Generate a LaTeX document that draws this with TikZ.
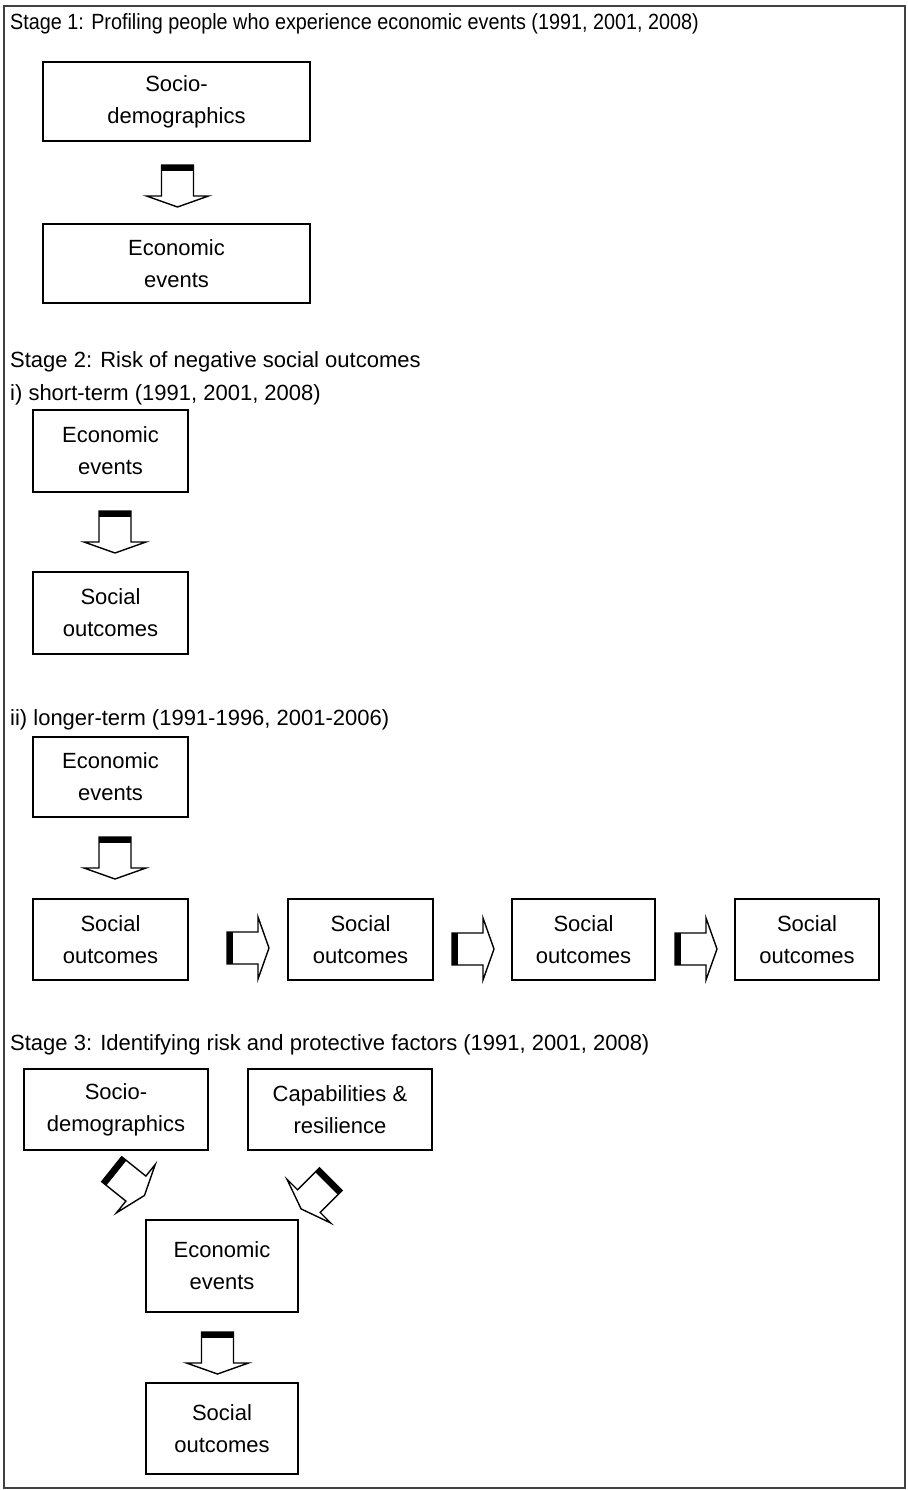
\documentclass[tikz,border=0pt]{standalone}
\usepackage{graphicx}
\usepackage{fontspec}
\setmainfont{Liberation Sans}
\newcommand\dfont{\fontsize{22}{32}\selectfont}
\tikzset{
  box/.style={draw, line width=1.5pt, align=center, inner sep=0pt, font=\dfont},
  titletext/.style={anchor=base west, inner sep=0pt, font=\dfont},
  blockarrow/.pic={
    \draw[line width=1.4pt, line join=miter] (0,-16) -- (31,-16) -- (31,-31) -- (42,0) -- (31,31) -- (31,16) -- (0,16) -- cycle;
    \fill (0,-16) rectangle (6,16);
  }
}
\begin{document}
\begin{tikzpicture}[x=1pt,y=-1pt]
\useasboundingbox (0,0) rectangle (907,1490);
\draw[line width=1.5pt, black!75] (4,6) rectangle (905,1488);

% titles
\node[titletext] (t1) at (10,30) {\scalebox{0.9}[1]{Stage 1: Profiling people who experience economic events (1991, 2001, 2008)}};
\node[titletext] (t2) at (10,367) {Stage 2: Risk of negative social outcomes};
\node[titletext] (t2a) at (10,400) {i) short-term (1991, 2001, 2008)};
\node[titletext] (t2b) at (10,725) {ii) longer-term (1991-1996, 2001-2006)};
\node[titletext] (t3) at (10,1050) {Stage 3: Identifying risk and protective factors (1991, 2001, 2008)};

% stage 1
\node[box, minimum width=267, minimum height=79] (b1) at (176.5,101.5) {Socio-\\demographics};
\node[box, minimum width=267, minimum height=79] (b2) at (176.5,263.5) {Economic\\events};
\pic[rotate=-90] at (177.5,165) {blockarrow};

% stage 2 i
\node[box, minimum width=155, minimum height=82] (b3) at (110.5,451) {Economic\\events};
\node[box, minimum width=155, minimum height=82] (b4) at (110.5,613) {Social\\outcomes};
\pic[rotate=-90] at (115,511) {blockarrow};

% stage 2 ii
\node[box, minimum width=155, minimum height=80] (b5) at (110.5,777) {Economic\\events};
\node[box, minimum width=155, minimum height=81] (b6) at (110.5,939.5) {Social\\outcomes};
\node[box, minimum width=145, minimum height=81] (b7) at (360.5,939.5) {Social\\outcomes};
\node[box, minimum width=143, minimum height=81] (b8) at (583.5,939.5) {Social\\outcomes};
\node[box, minimum width=144, minimum height=81] (b9) at (807,939.5) {Social\\outcomes};
\pic[rotate=-90] at (115,837) {blockarrow};
\pic at (227,948) {blockarrow};
\pic at (452,949) {blockarrow};
\pic at (675,949) {blockarrow};

% stage 3
\node[box, minimum width=184, minimum height=81] (b10) at (116,1109.5) {Socio-\\demographics};
\node[box, minimum width=184, minimum height=81] (b11) at (340,1109.5) {Capabilities \&\\resilience};
\node[box, minimum width=152, minimum height=92] (b12) at (222,1266) {Economic\\events};
\node[box, minimum width=152, minimum height=91] (b13) at (222,1428.5) {Social\\outcomes};
\pic[rotate=-38.7] at (111.7,1169.2) {blockarrow};
\pic[rotate=-135] at (330.8,1179.2) {blockarrow};
\pic[rotate=-90] at (217.5,1332) {blockarrow};
\end{tikzpicture}
\end{document}
